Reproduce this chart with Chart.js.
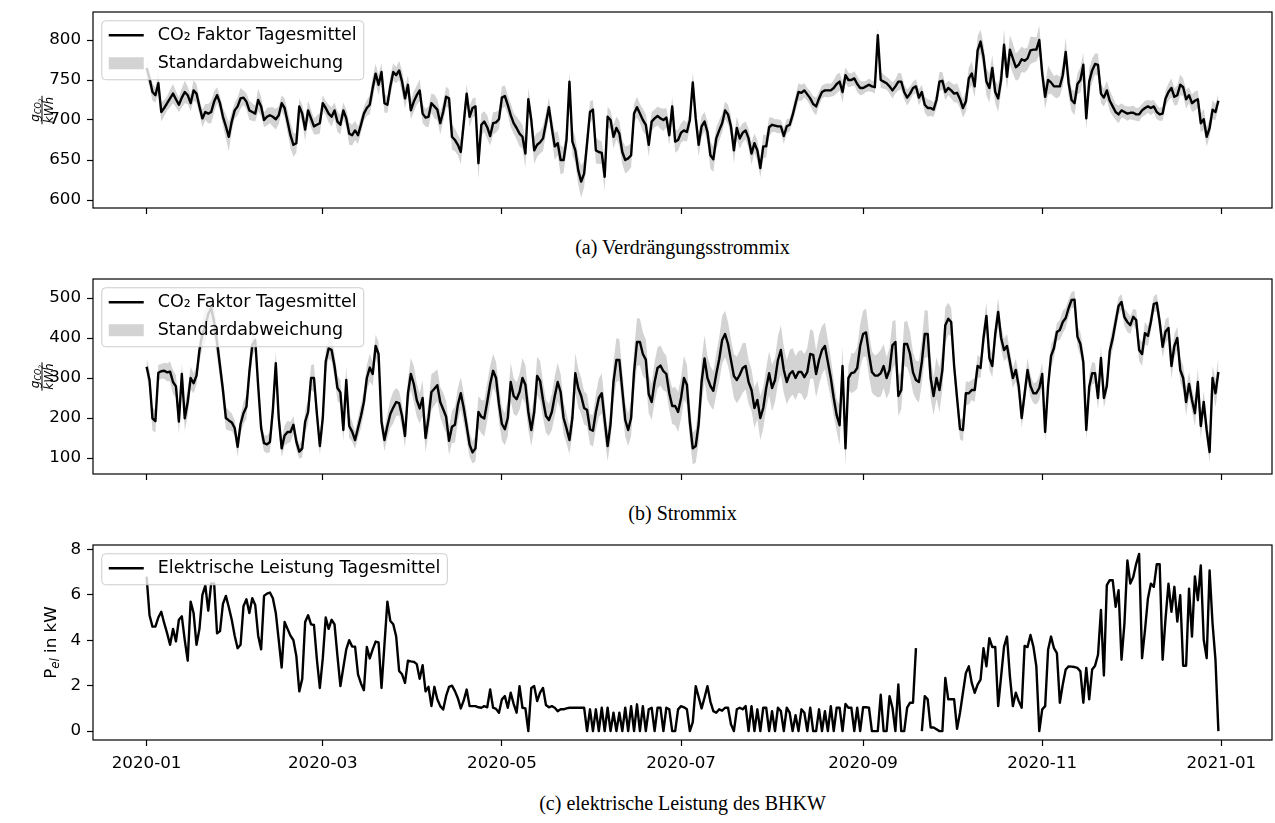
<!DOCTYPE html>
<html>
<head>
<meta charset="utf-8">
<script src="https://cdn.jsdelivr.net/npm/chart.js@4"></script>
<style>
  html, body { margin: 0; padding: 0; background: #fff; }
  #wrap { position: relative; width: 1275px; height: 823px; overflow: hidden; }
  canvas { position: absolute; left: 0; }
  .cap { position: absolute; left: 93px; width: 1179px; text-align: center; font-family: 'Liberation Serif', serif; font-size: 20px; line-height: 22px; color: #000; }
</style>
</head>
<body>
<div id="wrap">
  <canvas id="chartA" width="1275" height="230" style="top:0px"></canvas>
  <div class="cap" style="top:236px">(a) Verdrängungsstrommix</div>
  <canvas id="chartB" width="1275" height="235" style="top:262px"></canvas>
  <div class="cap" style="top:502px">(b) Strommix</div>
  <canvas id="chartC" width="1275" height="260" style="top:530px"></canvas>
  <div class="cap" style="top:792px">(c) elektrische Leistung des BHKW</div>
</div>
<script>
// x = Tag im Jahr 2020 (0 = 2020-01-01)
const tickDays = [0, 60, 121, 182, 244, 305, 366];
const tickLabels = ['2020-01', '2020-03', '2020-05', '2020-07', '2020-09', '2020-11', '2021-01'];

// (a) Verdrängungsstrommix, g/kWh
const verdraengungMittel = [
  765, 752, 735, 731, 746, 710, 715, 721, 727, 733,
  726, 719, 728, 735, 731, 721, 737, 733, 717, 702,
  710, 708, 710, 723, 731, 721, 704, 692, 679, 698,
  712, 717, 727, 728, 723, 712, 710, 708, 725, 717,
  700, 704, 706, 704, 701, 706, 721, 715, 698, 681,
  669, 671, 717, 708, 688, 712, 702, 692, 694, 696,
  721, 715, 708, 704, 712, 698, 694, 712, 702, 683,
  681, 687, 681, 694, 708, 715, 719, 740, 758, 744,
  760, 721, 719, 742, 760, 756, 762, 748, 727, 744,
  712, 723, 731, 737, 708, 703, 704, 721, 717, 713,
  696, 710, 729, 727, 679, 675, 669, 660, 696, 733,
  704, 715, 717, 646, 694, 698, 691, 680, 696, 697,
  701, 728, 730, 719, 706, 696, 690, 683, 679, 658,
  726, 700, 662, 669, 672, 677, 696, 716, 690, 667,
  671, 650, 650, 675, 748, 673, 662, 637, 623, 633,
  671, 710, 713, 662, 660, 659, 629, 704, 700, 679,
  690, 683, 660, 650, 652, 656, 708, 716, 708, 700,
  694, 669, 698, 702, 705, 702, 700, 703, 681, 717,
  673, 675, 684, 687, 685, 700, 747, 702, 669, 692,
  698, 685, 656, 651, 677, 687, 696, 712, 707, 692,
  662, 690, 677, 684, 687, 677, 658, 671, 662, 640,
  667, 667, 691, 694, 693, 692, 692, 680, 692, 694,
  706, 721, 735, 734, 737, 732, 727, 720, 717, 727,
  735, 737, 737, 737, 740, 745, 748, 735, 756, 750,
  750, 752, 745, 740, 740, 742, 744, 742, 741, 806,
  750, 748, 746, 742, 737, 742, 748, 748, 735, 728,
  733, 740, 742, 728, 735, 719, 715, 715, 713, 725,
  748, 749, 735, 740, 737, 733, 734, 726, 715, 723,
  752, 758, 742, 787, 798, 779, 748, 740, 765, 735,
  727, 750, 794, 754, 788, 777, 766, 769, 776, 774,
  777, 787, 788, 788, 800, 758, 729, 750, 747, 742,
  742, 742, 756, 785, 746, 725, 721, 745, 750, 769,
  702, 748, 762, 770, 769, 733, 728, 737, 724, 717,
  710, 707, 712, 710, 708, 709, 709, 707, 707, 712,
  715, 717, 715, 717, 710, 707, 708, 727, 735, 740,
  729, 731, 744, 741, 726, 731, 721, 724, 726, 696,
  701, 679, 690, 713, 710, 724
];
const verdraengungStd = [
  12, 10, 11, 9, 14, 12, 10, 9, 11, 12, 10, 9, 12, 14, 11, 10, 13, 12, 9, 11, 10, 12, 14, 13, 10, 9, 11, 15, 18, 12,
  10, 11, 13, 9, 10, 12, 11, 10, 14, 12, 9, 11, 10, 12, 13, 11, 10, 12, 14, 16, 15, 12, 10, 11, 14, 12, 11, 10, 12, 13,
  10, 9, 11, 12, 10, 13, 12, 10, 11, 14, 13, 12, 11, 10, 9, 10, 12, 14, 12, 13, 11, 12, 10, 13, 11, 10, 12, 14, 13, 12,
  11, 13, 12, 14, 12, 11, 13, 12, 15, 13, 14, 12, 13, 11, 16, 14, 13, 15, 14, 12, 13, 12, 11, 20, 14, 13, 15, 12, 14, 13,
  12, 14, 13, 12, 15, 13, 14, 16, 15, 18, 14, 13, 17, 15, 14, 16, 13, 12, 14, 17, 15, 18, 16, 14, 13, 17, 16, 18, 20, 17,
  15, 13, 12, 16, 15, 14, 18, 13, 12, 15, 14, 16, 15, 17, 16, 15, 12, 13, 12, 14, 13, 15, 12, 11, 12, 13, 14, 12, 13, 12, 14, 13,
  12, 13, 12, 11, 13, 14, 15, 13, 12, 14, 17, 16, 14, 13, 12, 11, 12, 13, 16, 14, 13, 12, 11, 12, 14, 12, 13, 12, 15, 14, 12,
  9, 8, 9, 8, 10, 9, 8, 9, 10, 11, 10, 9, 8, 9, 10, 11, 9, 8, 8, 9, 8, 10, 12, 11, 13, 10, 9, 8, 9, 10, 9,
  8, 7, 8, 7, 8, 9, 10, 9, 8, 9, 10, 9, 11, 10, 9, 10, 9, 8, 9, 10, 9, 10, 11, 10, 9, 10, 12, 11, 10, 9,
  10, 11, 12, 11, 12, 13, 14, 15, 14, 18, 15, 16, 17, 18, 16, 14, 17, 15, 20, 16, 18, 19, 17, 18, 16, 15, 14, 17, 16, 15, 18,
  16, 15, 18, 14, 13, 15, 12, 14, 18, 16, 14, 15, 13, 16, 15, 14, 16, 15, 13, 14, 12, 11, 12, 13, 12, 10, 11, 9, 8, 9,
  8, 9, 8, 9, 8, 9, 8, 9, 8, 9, 8, 9, 10, 11, 12, 11, 12, 13, 11, 12, 10, 11, 12, 11, 12, 13, 12, 11, 12, 10, 9
];

// (b) Strommix, g/kWh
const strommixMittel = [
  328, 295, 199, 192, 313, 317, 318, 314, 316, 290,
  279, 191, 310, 199, 240, 300, 287, 306, 370, 410,
  430, 460, 475, 440, 390, 330, 270, 200, 194, 189,
  175, 128, 185, 212, 228, 315, 382, 395, 280, 175,
  137, 134, 140, 220, 337, 200, 124, 156, 165, 165,
  183, 141, 116, 124, 191, 215, 300, 300, 210, 130,
  200, 341, 374, 370, 330, 275, 264, 170, 295, 180,
  166, 145, 175, 205, 240, 300, 326, 310, 380, 360,
  190, 145, 180, 210, 226, 240, 237, 205, 155, 262,
  310, 285, 245, 224, 250, 150, 200, 265, 273, 282,
  240, 222, 203, 143, 178, 183, 233, 262, 225, 180,
  133, 114, 124, 215, 203, 199, 240, 285, 318, 300,
  235, 185, 172, 200, 290, 255, 247, 265, 300, 283,
  215, 170, 215, 305, 293, 245, 205, 195, 215, 255,
  290, 265, 200, 174, 145, 200, 312, 275, 255, 225,
  220, 172, 168, 215, 250, 262, 195, 130, 185, 291,
  345, 345, 270, 195, 170, 200, 315, 390, 390, 360,
  346, 260, 240, 290, 325, 331, 317, 310, 262, 230,
  230, 215, 250, 300, 283, 190, 124, 130, 185, 290,
  349, 300, 280, 268, 310, 347, 395, 410, 385, 345,
  305, 295, 308, 325, 330, 290, 270, 225, 245, 200,
  225, 275, 312, 275, 295, 345, 370, 320, 290, 310,
  317, 300, 315, 315, 302, 315, 360, 358, 310, 345,
  370, 380, 340, 300, 250, 207, 182, 330, 124, 300,
  312, 314, 325, 380, 410, 414, 360, 315, 306, 306,
  312, 330, 300, 320, 382, 390, 255, 270, 385, 385,
  360, 314, 295, 290, 340, 410, 410, 300, 255, 300,
  270, 320, 432, 448, 440, 330, 250, 172, 170, 262,
  262, 270, 270, 330, 325, 400, 455, 350, 330, 410,
  465, 400, 370, 380, 340, 300, 320, 280, 200, 260,
  320, 280, 262, 262, 275, 310, 165, 280, 355, 375,
  415, 420, 440, 450, 475, 495, 496, 403, 385, 340,
  170, 278, 312, 312, 250, 350, 250, 280, 368, 399,
  440, 480, 490, 452, 440, 432, 453, 445, 370, 360,
  412, 405, 440, 485, 488, 440, 378, 416, 425, 330,
  380, 400, 320, 300, 240, 285, 245, 212, 290, 180,
  240, 170, 115, 300, 262, 315
];
const strommixStd = [
  22, 25, 30, 28, 20, 18, 20, 22, 25, 30, 28, 32, 25, 30, 35, 28, 25, 22, 30, 35, 40, 38, 35, 40, 38, 32, 30, 28, 25, 22,
  20, 25, 22, 28, 30, 35, 28, 25, 30, 25, 20, 22, 25, 35, 30, 28, 22, 25, 28, 25, 22, 20, 18, 22, 28, 30, 32, 35, 28, 22,
  28, 30, 25, 28, 30, 32, 30, 28, 35, 30, 25, 22, 25, 30, 28, 32, 35, 30, 28, 30, 25, 28, 30, 35, 40, 35, 30, 28, 30, 35,
  40, 45, 42, 38, 45, 35, 40, 45, 42, 40, 38, 42, 40, 35, 40, 45, 42, 40, 38, 35, 30, 28, 32, 40, 42, 45, 48, 45, 42, 40,
  45, 42, 40, 45, 48, 45, 42, 45, 50, 48, 45, 40, 42, 48, 50, 45, 42, 40, 45, 50, 48, 45, 40, 38, 35, 42, 50, 48, 45, 42,
  40, 38, 40, 45, 48, 50, 45, 38, 42, 50, 55, 52, 48, 42, 40, 45, 55, 60, 58, 55, 50, 48, 45, 50, 52, 50, 48, 45, 42, 45, 48, 50,
  52, 55, 50, 45, 40, 42, 48, 55, 58, 55, 50, 48, 52, 55, 60, 58, 55, 52, 55, 58, 60, 62, 58, 55, 52, 50, 48, 55, 52, 50, 55,
  58, 55, 60, 62, 58, 55, 60, 58, 55, 52, 55, 58, 60, 62, 60, 58, 62, 60, 58, 55, 50, 45, 40, 50, 48, 45, 30, 50, 48, 52, 55,
  58, 60, 55, 52, 50, 55, 58, 55, 52, 55, 60, 55, 50, 48, 55, 58, 55, 50, 48, 52, 55, 60, 58, 50, 48, 52, 55, 50, 45, 40,
  35, 30, 28, 25, 28, 30, 28, 25, 30, 28, 25, 30, 35, 30, 28, 30, 35, 30, 28, 30, 28, 25, 28, 30, 25, 28, 30, 28, 25, 28, 30,
  28, 25, 30, 28, 25, 22, 25, 28, 25, 22, 20, 22, 25, 30, 28, 25, 30, 28, 25, 30, 28, 25, 22, 25, 28, 25, 22, 20, 22, 25,
  22, 20, 25, 28, 30, 28, 25, 22, 20, 22, 25, 28, 30, 28, 32, 30, 28, 30, 32, 35, 30, 28, 32, 35, 30, 28, 25, 28, 30, 35, 38
];

// (c) elektrische Leistung BHKW, kW (null = keine Daten)
const bhkwLeistung = [
  6.8, 5.1, 4.6, 4.6, 5.0, 5.25, 4.75, 4.3, 3.8, 4.5,
  3.95, 4.9, 5.05, 4.0, 3.1, 5.7, 5.2, 3.8, 4.5, 6.0,
  6.4, 5.3, 6.5, 6.5, 4.3, 4.4, 5.6, 5.95, 5.45, 4.9,
  4.2, 3.65, 3.8, 5.5, 5.8, 5.2, 5.85, 5.55, 4.2, 3.6,
  5.95, 6.05, 6.1, 5.85, 5.2, 4.0, 2.8, 4.8, 4.5, 4.2,
  4.0, 3.3, 1.75, 2.3, 4.8, 5.1, 4.7, 4.67, 3.14, 1.9,
  3.2, 5.0, 4.5, 4.9, 4.7, 3.3, 1.98, 2.8, 3.6, 4.0,
  3.72, 3.72, 2.5, 2.1, 1.8, 3.7, 3.2, 3.6, 3.94, 3.9,
  1.9, 3.8, 5.7, 4.85, 4.7, 4.16, 2.65, 2.5, 2.12, 3.1,
  3.07, 3.05, 2.95, 2.3, 2.9, 1.75, 1.95, 1.1, 1.95, 1.4,
  1.1, 0.95, 1.55, 1.95, 2.0, 1.76, 1.45, 1.0, 1.35, 1.83,
  1.1, 1.1, 1.1, 1.05, 1.03, 1.1, 1.05, 1.83, 1.03, 0.98,
  0.81, 1.4, 1.54, 1.03, 1.69, 1.2, 0.81, 1.98, 1.03, 1.0,
  0, 1.9, 1.98, 1.32, 1.69, 1.9, 1.15, 1.05, 1.1, 1.03,
  0.88, 0.96, 0.96, 1.0, 1.03, 1.03, 1.03, 1.03, 1.03, 1.03,
  0, 0.96, 0, 0.96, 0, 1.03, 0, 1.03, 0, 0.81,
  0, 0.81, 0, 1.03, 0, 1.1, 0, 1.18, 0, 1.1,
  0, 0.96, 1.03, 0, 1.03, 1.03, 0, 1.03, 0.96, 0,
  0, 0.96, 1.1, 1.05, 0.96, 0, 0.4, 1.98, 1.5, 1.0,
  1.47, 1.98, 1.3, 0.88, 0.81, 0.96, 0.9, 1.03, 1.03, 0.3,
  0, 0.96, 1.03, 0.96, 1.1, 0, 1.1, 0, 0.96, 0,
  1.03, 1.03, 0, 0.88, 0, 1.03, 0.88, 0, 1.03, 0.81,
  0, 0.7, 0, 0.96, 0.81, 0, 1.03, 0, 0, 0.96,
  0, 0.88, 0, 1.1, 0, 1.03, 1.03, 0, 1.2, 1.03,
  1.03, 0, 1.03, 0, 1.05, 1.05, 1.03, 0, 0, 0,
  1.6, 0, 0, 1.54, 1.03, 0, 2.05, 0, 0, 1.03,
  1.25, 1.25, 3.65, null, 0, 1.54, 1.4, 0.16, 0.16, 0.08,
  0, 0, 2.34, 1.4, 1.4, 1.4, 0.1, 0.81, 1.69, 2.56,
  2.85, 2.12, 1.69, 2.05, 2.27, 3.65, 2.85, 4.09, 3.7, 3.7,
  1.1, 2.41, 3.72, 4.16, 2.41, 1.1, 1.69, 1.32, 1.03, 3.75,
  3.7, 4.23, 3.72, 2.85, 0, 0.96, 1.1, 3.58, 4.16, 3.65,
  3.43, 1.25, 2.05, 2.71, 2.85, 2.84, 2.82, 2.78, 2.63, 1.25,
  2.78, 1.4, 2.71, 2.88, 3.36, 5.33, 2.45, 6.42, 6.64, 6.64,
  5.47, 6.2, 3.14, 4.74, 7.51, 6.49, 6.78, 7.36, 7.8, 3.21,
  4.45, 5.84, 6.49, 6.35, 7.34, 7.34, 3.14, 4.96, 6.49, 5.25,
  6.35, 4.82, 5.98, 2.88, 2.88, 6.27, 4.16, 6.81, 5.76, 7.29,
  4.02, 3.21, 7.07, 4.74, 3.14, 0
];

const BAND = '#d3d3d3';
const TICKFONT = { family: 'DejaVu Sans', size: 16.7 };
const LEGEND_PX = 17.5;

function pts(arr) {
  return arr.map((v, i) => ({ x: i, y: v }));
}
function band(mean, std, sign) {
  return mean.map((v, i) => ({ x: i, y: v + sign * std[i] }));
}

// Legende, Rahmen und y-Beschriftung je Panel
const panelText = {
  chartA: { legend: [{ kind: 'line', text: 'CO₂ Faktor Tagesmittel' }, { kind: 'patch', text: 'Standardabweichung' }], ytitle: 'frac' },
  chartB: { legend: [{ kind: 'line', text: 'CO₂ Faktor Tagesmittel' }, { kind: 'patch', text: 'Standardabweichung' }], ytitle: 'frac' },
  chartC: { legend: [{ kind: 'line', text: 'Elektrische Leistung Tagesmittel' }], ytitle: 'pel' }
};

const decor = {
  id: 'decor',
  afterDraw(chart) {
    const cfg = panelText[chart.canvas.id];
    const ctx = chart.ctx, a = chart.chartArea;
    ctx.save();
    // Achsenrahmen
    ctx.strokeStyle = '#000';
    ctx.lineWidth = 1.2;
    ctx.strokeRect(a.left, a.top, a.right - a.left, a.bottom - a.top);

    // Legende
    const fs = LEGEND_PX;
    ctx.font = fs + 'px "DejaVu Sans"';
    const tw = Math.max(...cfg.legend.map(it => ctx.measureText(it.text).width));
    const x0 = a.left + 0.5 * fs, y0 = a.top + 0.5 * fs;
    const hx = x0 + 0.4 * fs, hl = 2 * fs, tx = hx + hl + 0.8 * fs;
    const w = tx - x0 + tw + 0.4 * fs, h = 31 + 28 * (cfg.legend.length - 1);
    ctx.beginPath();
    if (ctx.roundRect) ctx.roundRect(x0, y0, w, h, 4); else ctx.rect(x0, y0, w, h);
    ctx.fillStyle = 'rgba(255,255,255,0.8)';
    ctx.fill();
    ctx.strokeStyle = '#cccccc';
    ctx.lineWidth = 1;
    ctx.stroke();
    cfg.legend.forEach((it, i) => {
      const cy = y0 + 14.5 + 28 * i;
      if (it.kind === 'line') {
        ctx.strokeStyle = '#000';
        ctx.lineWidth = 2.4;
        ctx.beginPath();
        ctx.moveTo(hx, cy);
        ctx.lineTo(hx + hl, cy);
        ctx.stroke();
      } else {
        ctx.fillStyle = BAND;
        ctx.fillRect(hx, cy - 6, hl, 12);
      }
      ctx.fillStyle = '#000';
      ctx.textAlign = 'left';
      ctx.textBaseline = 'middle';
      ctx.fillText(it.text, tx, cy);
    });

    // y-Achsentitel
    const cy = (a.top + a.bottom) / 2;
    ctx.fillStyle = '#000';
    ctx.textBaseline = 'alphabetic';
    if (cfg.ytitle === 'frac') {
      ctx.translate(42, cy);
      ctx.rotate(-Math.PI / 2);
      const fG = 'italic 12px "DejaVu Sans"', fS = 'italic 8px "DejaVu Sans"', fSS = 'italic 6px "DejaVu Sans"';
      ctx.font = fG; const wg = ctx.measureText('g').width;
      ctx.font = fS; const wco = ctx.measureText('CO').width;
      ctx.font = fSS; const w2 = ctx.measureText('2').width;
      ctx.font = fG; const wk = ctx.measureText('kWh').width;
      const wn = wg + wco + w2;
      const lw = Math.max(wn, wk) + 2;
      ctx.fillRect(-lw / 2, -0.5, lw, 1);
      let x = -wn / 2;
      ctx.textAlign = 'left';
      ctx.font = fG; ctx.fillText('g', x, -3); x += wg;
      ctx.font = fS; ctx.fillText('CO', x, -1); x += wco;
      ctx.font = fSS; ctx.fillText('2', x, 1);
      ctx.font = fG; ctx.fillText('kWh', -wk / 2, 11);
    } else {
      ctx.translate(50, cy);
      ctx.rotate(-Math.PI / 2);
      const fN = '16.7px "DejaVu Sans"', fI = 'italic 11.7px "DejaVu Sans"';
      ctx.font = fN; const wp = ctx.measureText('P').width, wr = ctx.measureText(' in kW').width;
      ctx.font = fI; const we = ctx.measureText('el').width;
      let x = -(wp + we + wr) / 2;
      ctx.textAlign = 'left';
      ctx.font = fN; ctx.fillText('P', x, 6); x += wp;
      ctx.font = fI; ctx.fillText('el', x, 9); x += we;
      ctx.font = fN; ctx.fillText(' in kW', x, 6);
    }
    ctx.restore();
  }
};

function makePanel(id, p) {
  return new Chart(document.getElementById(id), {
    type: 'line',
    data: { datasets: p.datasets },
    options: {
      responsive: false,
      animation: false,
      events: [],
      layout: { padding: { top: p.padTop, right: 3, left: 0, bottom: 0 } },
      plugins: { legend: { display: false }, tooltip: { enabled: false } },
      elements: { point: { radius: 0 }, line: { tension: 0, borderJoinStyle: 'round' } },
      scales: {
        x: {
          type: 'linear', min: -18.25, max: 383.25,
          afterFit: s => { s.height = p.xHeight; s.paddingLeft = 0; s.paddingRight = 0; },
          afterBuildTicks: s => { s.ticks = tickDays.map(v => ({ value: v })); },
          ticks: { display: p.showX, autoSkip: false, maxRotation: 0, color: '#000', font: TICKFONT, padding: 8,
                   callback: (v, i) => tickLabels[i] },
          grid: { drawOnChartArea: false, drawTicks: true, tickLength: 6, tickWidth: 1.2, tickColor: '#000' },
          border: { display: false }
        },
        y: {
          min: p.yMin, max: p.yMax,
          afterFit: s => { s.width = 93; s.paddingTop = 0; s.paddingBottom = 0; },
          afterBuildTicks: s => { s.ticks = p.yTicks.map(v => ({ value: v })); },
          ticks: { color: '#000', font: TICKFONT, padding: 6 },
          grid: { drawOnChartArea: false, drawTicks: true, tickLength: 6, tickWidth: 1.2, tickColor: '#000' },
          border: { display: false }
        }
      }
    },
    plugins: [decor]
  });
}

function bandPanel(mean, std) {
  return [
    { data: pts(mean), borderColor: '#000', borderWidth: 2.4, fill: false },
    { data: band(mean, std, 1), borderWidth: 0, borderColor: 'rgba(0,0,0,0)', backgroundColor: BAND, fill: '+1' },
    { data: band(mean, std, -1), borderWidth: 0, borderColor: 'rgba(0,0,0,0)', fill: false }
  ];
}

makePanel('chartA', {
  datasets: bandPanel(verdraengungMittel, verdraengungStd),
  padTop: 12, xHeight: 22, showX: false,
  yMin: 590, yMax: 835, yTicks: [600, 650, 700, 750, 800]
});

makePanel('chartB', {
  datasets: bandPanel(strommixMittel, strommixStd),
  padTop: 17, xHeight: 23, showX: false,
  yMin: 60, yMax: 547.5, yTicks: [100, 200, 300, 400, 500]
});

makePanel('chartC', {
  datasets: [{ data: pts(bhkwLeistung), borderColor: '#000', borderWidth: 2.4, fill: false, spanGaps: false }],
  padTop: 15, xHeight: 50, showX: true,
  yMin: -0.39, yMax: 8.19, yTicks: [0, 2, 4, 6, 8]
});
</script>
</body>
</html>
